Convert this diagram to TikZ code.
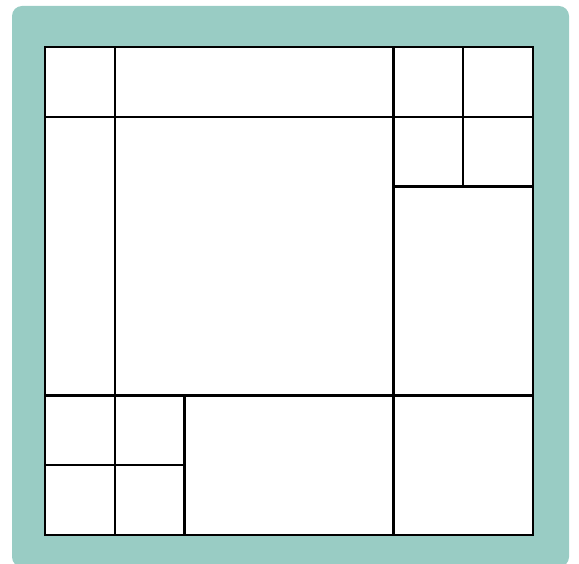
\documentclass[tikz,border=0pt]{standalone}
\definecolor{teal1}{RGB}{153,204,196}
\begin{document}
\begin{tikzpicture}[x=1pt,y=-1pt,
  cell/.style={draw=black,line width=2.2pt,fill=white},
  frame/.style={fill=teal1,rounded corners=10pt}]
\useasboundingbox (0,0) rectangle (579,564);
\begin{scope}
\clip (0,0) rectangle (579,564);
\fill[frame] (12,6) rectangle (569,567);
\end{scope}
\begin{scope}[shift={(45,47)},x=69.71pt,y=-69.71pt]
\fill[white] (0,0) rectangle (7,7);
% top row
\draw[cell] (0,0) rectangle (1,1);
\draw[cell] (1,0) rectangle (5,1);
\draw[cell] (5,0) rectangle (6,1);
\draw[cell] (6,0) rectangle (7,1);
% middle
\draw[cell] (0,1) rectangle (1,5);
\draw[cell] (1,1) rectangle (5,5);
\draw[cell] (5,1) rectangle (6,2);
\draw[cell] (6,1) rectangle (7,2);
\draw[cell] (5,2) rectangle (7,5);
% bottom
\draw[cell] (0,5) rectangle (1,6);
\draw[cell] (1,5) rectangle (2,6);
\draw[cell] (0,6) rectangle (1,7);
\draw[cell] (1,6) rectangle (2,7);
\draw[cell] (2,5) rectangle (5,7);
\draw[cell] (5,5) rectangle (7,7);
\end{scope}
\end{tikzpicture}
\end{document}
